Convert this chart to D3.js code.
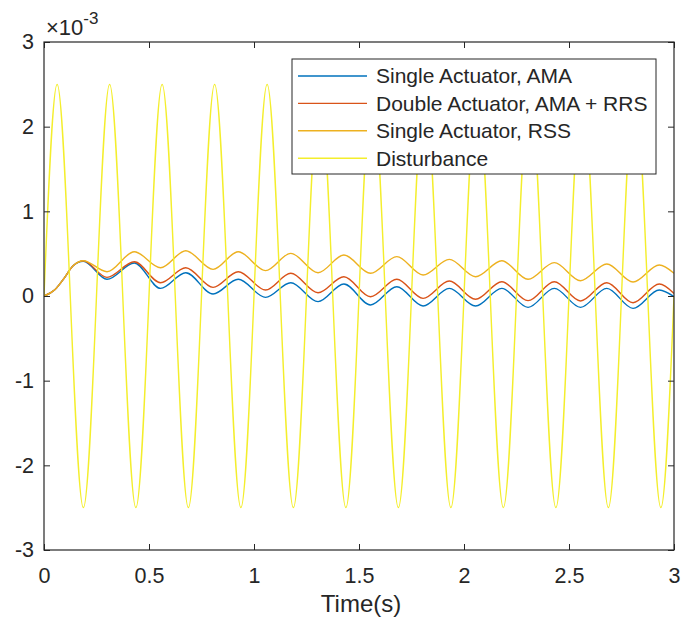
<!DOCTYPE html>
<html>
<head>
<meta charset="utf-8">
<script src="https://cdn.jsdelivr.net/npm/d3@7"></script>
<style>
html,body{margin:0;padding:0;background:#fff;}
svg{display:block;}
text{font-family:"Liberation Sans",Arial,Helvetica,sans-serif;fill:#262626;}
</style>
</head>
<body>
<svg id="chart" width="683" height="626"></svg>
<script>
// ---- data (y values in units of 1e-3) ----
const xTicks = [0, 0.5, 1, 1.5, 2, 2.5, 3];
const xTickLabels = ["0", "0.5", "1", "1.5", "2", "2.5", "3"];
const yTicks = [-3, -2, -1, 0, 1, 2, 3];
const yTickLabels = ["-3", "-2", "-1", "0", "1", "2", "3"];
const seriesNames = ["Single Actuator, AMA", "Double Actuator, AMA + RRS", "Single Actuator, RSS", "Disturbance"];
const seriesColors = ["#0072BD", "#D95319", "#EDB120", "#F4EE2C"];

// response curves: time points (s)
const respTime = [0, 0.05, 0.09, 0.14, 0.187, 0.30, 0.43, 0.555, 0.675, 0.805, 0.925, 1.055, 1.175, 1.305, 1.428, 1.555, 1.68, 1.805, 1.93, 2.055, 2.18, 2.305, 2.43, 2.555, 2.68, 2.805, 2.93, 3.0];
const amaSingle = [0, 0.07, 0.19, 0.36, 0.41, 0.197, 0.39, 0.09, 0.275, 0.024, 0.197, -0.016, 0.157, -0.067, 0.142, -0.106, 0.11, -0.118, 0.09, -0.118, 0.09, -0.134, 0.09, -0.134, 0.09, -0.146, 0.071, -0.008];
const amaRrsDouble = [0, 0.07, 0.19, 0.36, 0.415, 0.22, 0.405, 0.157, 0.334, 0.102, 0.287, 0.071, 0.268, 0.039, 0.228, -0.008, 0.197, -0.028, 0.177, -0.039, 0.169, -0.055, 0.169, -0.059, 0.157, -0.079, 0.142, 0.031];
const rssSingle = [0, 0.07, 0.19, 0.36, 0.417, 0.287, 0.523, 0.334, 0.535, 0.315, 0.523, 0.30, 0.504, 0.275, 0.484, 0.268, 0.465, 0.248, 0.433, 0.228, 0.417, 0.197, 0.394, 0.181, 0.378, 0.165, 0.366, 0.268];

// disturbance: sampled at its peaks, troughs and zero crossings
const distStep = 0.0625;
const disturbance = [
  0, 2.5, 0, -2.5, 0, 2.5, 0, -2.5, 0, 2.5, 0, -2.5,
  0, 2.5, 0, -2.5, 0, 2.5, 0, -2.5, 0, 2.5, 0, -2.5,
  0, 2.5, 0, -2.5, 0, 2.5, 0, -2.5, 0, 2.5, 0, -2.5,
  0, 2.5, 0, -2.5, 0, 2.5, 0, -2.5, 0, 2.5, 0, -2.5, 0
];

// ---- drawing ----
const svg = d3.select("#chart");
const L = 44, R = 674, T = 42, B = 550;
const x = d3.scaleLinear().domain([0, 3]).range([L, R]);
const y = d3.scaleLinear().domain([-3, 3]).range([B, T]);
const axisColor = "#262626";

svg.append("defs").append("clipPath").attr("id", "clip")
  .append("rect").attr("x", L).attr("y", T).attr("width", R - L).attr("height", B - T);

const plot = svg.append("g").attr("clip-path", "url(#clip)");

const respLine = d3.line().x(d => x(d[0])).y(d => y(d[1])).curve(d3.curveMonotoneX);
const distLine = d3.line().x(d => x(d[0])).y(d => y(d[1])).curve(d3.curveNatural);

const respSeries = [amaSingle, amaRrsDouble, rssSingle];
respSeries.forEach((vals, i) => {
  plot.append("path")
    .datum(vals.map((v, j) => [respTime[j], v]))
    .attr("d", respLine)
    .attr("fill", "none")
    .attr("stroke", seriesColors[i])
    .attr("stroke-width", 1.4);
});
plot.append("path")
  .datum(disturbance.map((v, j) => [j * distStep, v]))
  .attr("d", distLine)
  .attr("fill", "none")
  .attr("stroke", seriesColors[3])
  .attr("stroke-width", 1.4);

// axes
const tickFont = 21.5;
const xAxis = d3.axisBottom(x).tickValues(xTicks).tickFormat((d, i) => xTickLabels[i])
  .tickSizeInner(-6).tickSizeOuter(0).tickPadding(18);
const gx = svg.append("g").attr("transform", `translate(0,${B})`).call(xAxis);
const yAxis = d3.axisLeft(y).tickValues(yTicks).tickFormat((d, i) => yTickLabels[i])
  .tickSizeInner(-6).tickSizeOuter(0).tickPadding(10);
const gy = svg.append("g").attr("transform", `translate(${L},0)`).call(yAxis);
const gxt = svg.append("g").attr("transform", `translate(0,${T})`)
  .call(d3.axisTop(x).tickValues(xTicks).tickFormat("").tickSizeInner(-6).tickSizeOuter(0));
const gyr = svg.append("g").attr("transform", `translate(${R},0)`)
  .call(d3.axisRight(y).tickValues(yTicks).tickFormat("").tickSizeInner(-6).tickSizeOuter(0));
[gx, gy, gxt, gyr].forEach(g => {
  g.select(".domain").remove();
  g.selectAll(".tick line").attr("stroke", axisColor).attr("stroke-width", 1);
  g.selectAll("text").attr("font-size", tickFont).attr("fill", axisColor)
    .style("font-family", '"Liberation Sans",Arial,sans-serif');
});

svg.append("rect").attr("x", L).attr("y", T).attr("width", R - L).attr("height", B - T)
  .attr("fill", "none").attr("stroke", axisColor).attr("stroke-width", 1.2);

// exponent label
const expo = svg.append("text").attr("x", 46).attr("y", 35).attr("font-size", 22);
expo.append("tspan").text("\u00d710");
expo.append("tspan").attr("font-size", 17).attr("dy", -11).text("-3");

// x label
svg.append("text").attr("x", (L + R) / 2 + 2).attr("y", 612).attr("text-anchor", "middle")
  .attr("font-size", 24).text("Time(s)");

// legend
const lg = svg.append("g");
const lgX = 292, lgY = 59, lgW = 364, lgH = 115;
lg.append("rect").attr("x", lgX).attr("y", lgY).attr("width", lgW).attr("height", lgH)
  .attr("fill", "#fff").attr("stroke", axisColor).attr("stroke-width", 1);
seriesNames.forEach((name, i) => {
  const cy = 76 + i * 27.4;
  lg.append("line").attr("x1", 298).attr("x2", 367).attr("y1", cy).attr("y2", cy)
    .attr("stroke", seriesColors[i]).attr("stroke-width", 1.4);
  lg.append("text").attr("x", 376).attr("y", cy).attr("dy", "0.35em")
    .attr("font-size", 21).text(name);
});
</script>
</body>
</html>
